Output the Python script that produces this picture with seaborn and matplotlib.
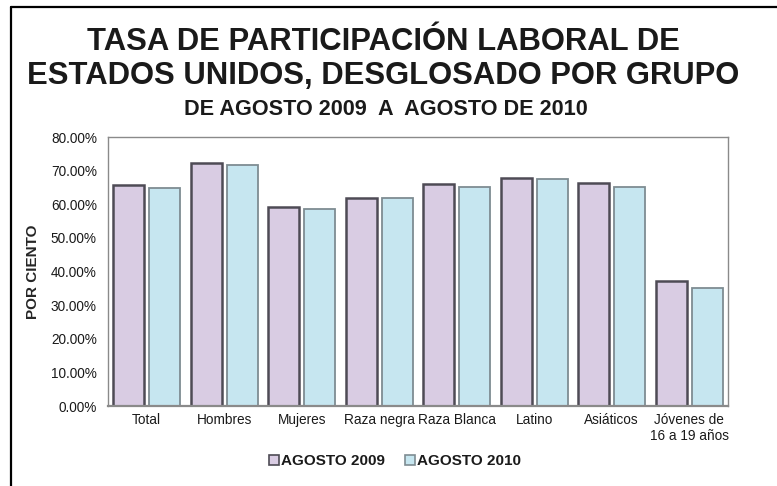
import matplotlib
matplotlib.use('Agg')
import matplotlib.pyplot as plt
from matplotlib.lines import Line2D
from matplotlib.ticker import PercentFormatter, MultipleLocator
import seaborn as sns
import pandas as pd

# ===== 数据 =====
grupos = ['Total', 'Hombres', 'Mujeres', 'Raza negra', 'Raza Blanca',
          'Latino', 'Asiáticos', 'Jóvenes de\n16 a 19 años']
agosto_2009 = [0.656, 0.724, 0.592, 0.620, 0.660, 0.677, 0.664, 0.372]
agosto_2010 = [0.648, 0.716, 0.586, 0.620, 0.651, 0.674, 0.652, 0.351]
series = ['AGOSTO 2009', 'AGOSTO 2010']

df = pd.DataFrame({
    'grupo': grupos * 2,
    'serie': [series[0]] * len(grupos) + [series[1]] * len(grupos),
    'valor': agosto_2009 + agosto_2010,
})

# ===== 设置 =====
sns.set_style('white')
plt.rcParams['font.family'] = ['Liberation Sans', 'DejaVu Sans']
plt.rcParams['text.color'] = '#1a1a1a'

fill_colors = {'AGOSTO 2009': '#d9cce3', 'AGOSTO 2010': '#c6e6f0'}
edge_colors = ['#4e4b55', '#7e8c92']

fig = plt.figure(figsize=(7.77, 4.86), dpi=100)
ax = fig.add_axes([108 / 777, 1 - 406 / 486, 620 / 777, 269 / 486])

sns.barplot(data=df, x='grupo', y='valor', hue='serie', palette=fill_colors,
            width=0.92, gap=0.13, saturation=1, ax=ax, legend=True)

for cont, ec, lw in zip(ax.containers, edge_colors, [1.8, 1.3]):
    for bar in cont:
        bar.set_edgecolor(ec)
        bar.set_linewidth(lw)

ax.set_ylim(0, 0.8)
ax.set_xlim(-0.5, 7.5)
ax.yaxis.set_major_locator(MultipleLocator(0.1))
ax.yaxis.set_major_formatter(PercentFormatter(xmax=1, decimals=2))
ax.tick_params(axis='both', length=0, labelsize=9.8, colors='#1a1a1a')
ax.tick_params(axis='y', pad=8)
ax.tick_params(axis='x', pad=5)
ax.set_xlabel('')
ax.set_ylabel('POR CIENTO', fontsize=11, fontweight='bold')
ax.yaxis.set_label_coords(-0.11, 0.5)
for s in ax.spines.values():
    s.set_color('#8a8a8a')
    s.set_linewidth(1.0)
ax.spines['bottom'].set_linewidth(1.6)

# leyenda
handles, labels = ax.get_legend_handles_labels()
for h, ec in zip(handles, edge_colors):
    h.set_edgecolor(ec)
    h.set_linewidth(1.2)
ax.legend_.remove()
fig.legend(handles, labels, loc='center', bbox_to_anchor=(395 / 777, 1 - 461 / 486),
           ncol=2, frameon=False, prop={'weight': 'bold', 'size': 11},
           handlelength=0.65, handleheight=0.65, handletextpad=0.15,
           columnspacing=1.3)

# títulos
fig.text(383 / 777, 1 - 50 / 486, 'TASA DE PARTICIPACIÓN LABORAL DE',
         ha='center', va='baseline', fontsize=22.3, fontweight='bold')
fig.text(383 / 777, 1 - 84 / 486, 'ESTADOS UNIDOS, DESGLOSADO POR GRUPO',
         ha='center', va='baseline', fontsize=22.3, fontweight='bold')
fig.text(386 / 777, 1 - 115 / 486, 'DE AGOSTO 2009  A  AGOSTO DE 2010',
         ha='center', va='baseline', fontsize=15.6, fontweight='bold')

# marco exterior (izquierda y arriba)
fig.add_artist(Line2D([11 / 777, 11 / 777], [0, 1 - 7 / 486], color='black', lw=1.6))
fig.add_artist(Line2D([11 / 777, 1], [1 - 7 / 486, 1 - 7 / 486], color='black', lw=1.6))

fig.savefig('out.png', dpi=100)
